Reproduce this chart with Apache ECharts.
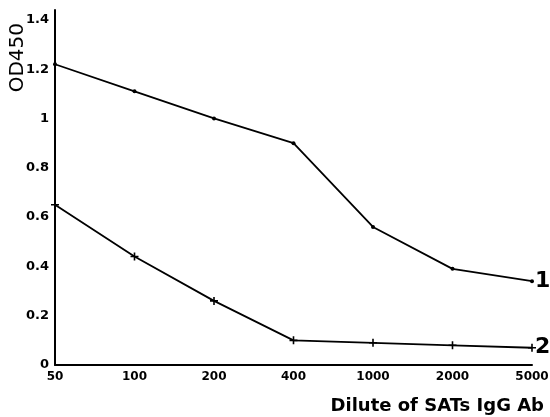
<!DOCTYPE html>
<html>
<head>
<meta charset="utf-8">
<script src="https://cdn.jsdelivr.net/npm/echarts@6/dist/echarts.min.js"></script>
<style>
  html, body { margin: 0; padding: 0; background: #fff; }
  #chart { width: 550px; height: 417px; }
</style>
</head>
<body>
<div id="chart"></div>
<script>
// dilution steps on the x axis
const dilutions = ['50', '100', '200', '400', '1000', '2000', '5000'];
// OD450 readings, curve 1 and curve 2
const curve1 = [1.22, 1.11, 1.00, 0.90, 0.56, 0.39, 0.34];
const curve2 = [0.65, 0.44, 0.26, 0.10, 0.09, 0.08, 0.07];
const yTicks = [0, 0.2, 0.4, 0.6, 0.8, 1, 1.2, 1.4];

const font = 'DejaVu Sans';
const plus = 'path://M4,0h2v4h4v2h-4v4h-2v-4h-4v-2h4z';

const chart = echarts.init(document.getElementById('chart'));

chart.setOption({
    backgroundColor: '#fff',
    animation: false,
    grid: {left: 55, right: 18, top: 10, bottom: 52, outerBoundsMode: 'none'},
    xAxis: {
        type: 'category',
        data: dilutions,
        boundaryGap: false,
        axisLine: {lineStyle: {color: '#000', width: 2}},
        axisTick: {show: false},
        axisLabel: {color: '#000', fontFamily: font, fontSize: 12, fontWeight: 'bold', margin: 6}
    },
    yAxis: {
        type: 'value',
        min: 0,
        max: 1.44,
        interval: 0.2,
        splitLine: {show: false},
        axisLine: {show: true, lineStyle: {color: '#000', width: 2}},
        axisTick: {show: false},
        axisLabel: {
            color: '#000', fontFamily: font, fontSize: 13, fontWeight: 'bold', margin: 6,
            formatter: v => {
                const hit = yTicks.find(t => Math.abs(t - v) < 1e-6);
                return hit === undefined ? '' : String(hit);
            }
        }
    },
    graphic: [
        {
            type: 'text', left: 8, top: 23,
            rotation: Math.PI / 2,
            style: {text: 'OD450', fill: '#000', font: '20px "DejaVu Sans"'}
        },
        {
            type: 'text', right: 6, top: 397,
            style: {text: 'Dilute of SATs IgG Ab', fill: '#000', font: 'bold 18px "DejaVu Sans"'}
        }
    ],
    series: [
        {
            name: '1',
            type: 'line',
            data: curve1,
            symbol: 'circle',
            symbolSize: 4,
            itemStyle: {color: '#000'},
            lineStyle: {color: '#000', width: 1.8},
            endLabel: {show: true, formatter: '{a}', color: '#000', fontFamily: font,
                fontSize: 22, fontWeight: 'bold', distance: 3}
        },
        {
            name: '2',
            type: 'line',
            data: curve2,
            symbol: plus,
            symbolSize: 8,
            itemStyle: {color: '#000'},
            lineStyle: {color: '#000', width: 1.8},
            endLabel: {show: true, formatter: '{a}', color: '#000', fontFamily: font,
                fontSize: 22, fontWeight: 'bold', distance: 3}
        }
    ]
});
</script>
</body>
</html>
